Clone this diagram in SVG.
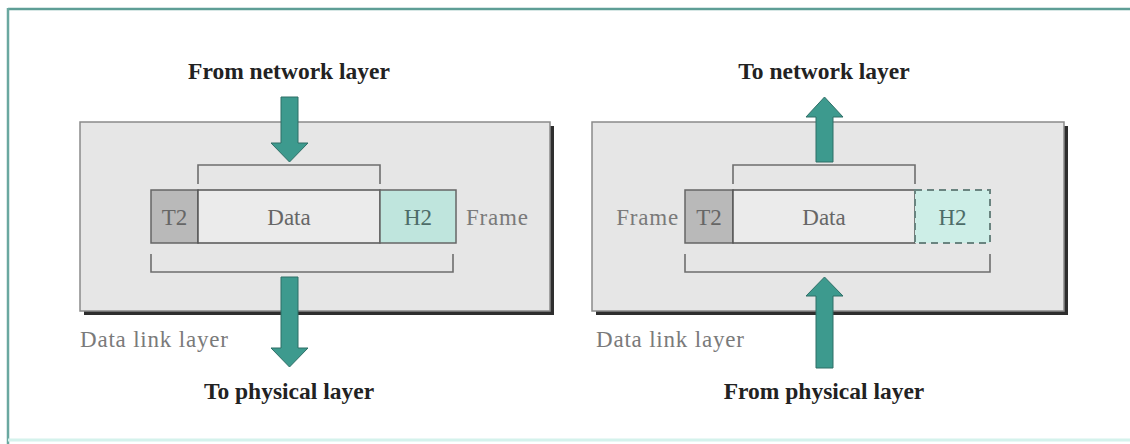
<svg xmlns="http://www.w3.org/2000/svg" width="1130" height="444" viewBox="0 0 1130 444">
  <defs>
    <style>
      .layer { fill: #e6e6e6; stroke: #8a8a8a; stroke-width: 1.5; }
      .shadow { fill: #2e2e2e; }
      .trailer { fill: #b9b9b9; stroke: #666; stroke-width: 1.5; }
      .data { fill: #ebebeb; stroke: #555; stroke-width: 1.5; }
      .header { fill: #bfe5dd; stroke: #666; stroke-width: 1.5; }
      .header-dash { fill: #cdeee7; stroke: #6a8480; stroke-width: 2; stroke-dasharray: 7 5; }
      .bracket { fill: none; stroke: #6e6e6e; stroke-width: 1.6; }
      .arrow { fill: #3d9a8e; stroke: #2f6f67; stroke-width: 1; }
      .title { font-family: "Liberation Serif", serif; font-size: 23.5px; font-weight: bold; fill: #222; text-anchor: middle; }
      .gray { font-family: "Liberation Serif", serif; font-size: 23px; fill: #7a7a7a; letter-spacing: 0.8px; }
      .cell { font-family: "Liberation Serif", serif; font-size: 23px; fill: #666; text-anchor: middle; }
      .cell-h { font-family: "Liberation Serif", serif; font-size: 23px; fill: #4d6c68; text-anchor: middle; }
    </style>
  </defs>

  <!-- page frame -->
  <rect x="0" y="0" width="1130" height="444" fill="#ffffff"/>
  <line x1="8" y1="9" x2="1130" y2="9" stroke="#5e9e96" stroke-width="2.5"/>
  <line x1="8" y1="8" x2="8" y2="444" stroke="#6aa8a0" stroke-width="2.5"/>
  <line x1="8" y1="440" x2="1130" y2="440" stroke="#d4f2ec" stroke-width="3"/>

  <!-- sender side: data link layer encapsulation -->
  <g id="sender-layer">
    <rect class="shadow" x="84" y="126" width="470" height="189"/>
    <rect class="layer" x="80" y="122" width="470" height="189"/>
    <text class="gray" x="80" y="347">Data link layer</text>
  </g>
  <g id="sender-frame">
    <rect class="trailer" x="151" y="190" width="47" height="53"/>
    <rect class="data" x="198" y="190" width="182" height="53"/>
    <rect class="header" x="380" y="190" width="76" height="53"/>
    <text class="cell" x="174.5" y="225">T2</text>
    <text class="cell" x="289" y="225">Data</text>
    <text class="cell-h" x="418" y="225">H2</text>
    <text class="gray" x="466" y="225">Frame</text>
  </g>
  <g id="sender-brackets">
    <path class="bracket" d="M198,184 V165 H380 V184"/>
    <path class="bracket" d="M151,254 V272 H453 V254"/>
  </g>
  <g id="sender-labels">
    <text class="title" x="289" y="79">From network layer</text>
    <text class="title" x="289" y="399">To physical layer</text>
  </g>

  <!-- receiver side: data link layer decapsulation -->
  <g id="receiver-layer">
    <rect class="shadow" x="596" y="126" width="472" height="189"/>
    <rect class="layer" x="592" y="122" width="472" height="189"/>
    <text class="gray" x="596" y="347">Data link layer</text>
  </g>
  <g id="receiver-frame">
    <rect class="trailer" x="685" y="190" width="48" height="53"/>
    <rect class="data" x="733" y="190" width="182" height="53"/>
    <rect class="header-dash" x="915" y="190" width="75" height="53"/>
    <text class="cell" x="709" y="225">T2</text>
    <text class="cell" x="824" y="225">Data</text>
    <text class="cell-h" x="952.5" y="225">H2</text>
    <text class="gray" x="679" y="225" text-anchor="end">Frame</text>
  </g>
  <g id="receiver-brackets">
    <path class="bracket" d="M733,184 V165 H915 V184"/>
    <path class="bracket" d="M685,254 V272 H990 V254"/>
  </g>
  <g id="receiver-labels">
    <text class="title" x="824" y="79">To network layer</text>
    <text class="title" x="824" y="399">From physical layer</text>
  </g>

  <!-- flow arrows -->
  <g id="connectors">
    <polygon class="arrow" points="281,97 298,97 298,143 308,143 289.5,162 271,143 281,143"/>
    <polygon class="arrow" points="281,277 298,277 298,348 308,348 289.5,367 271,348 281,348"/>
    <polygon class="arrow" points="816,162 833,162 833,117 843,117 824.5,97 806,117 816,117"/>
    <polygon class="arrow" points="816,368 833,368 833,296 843,296 824.5,277 806,296 816,296"/>
  </g>
</svg>
